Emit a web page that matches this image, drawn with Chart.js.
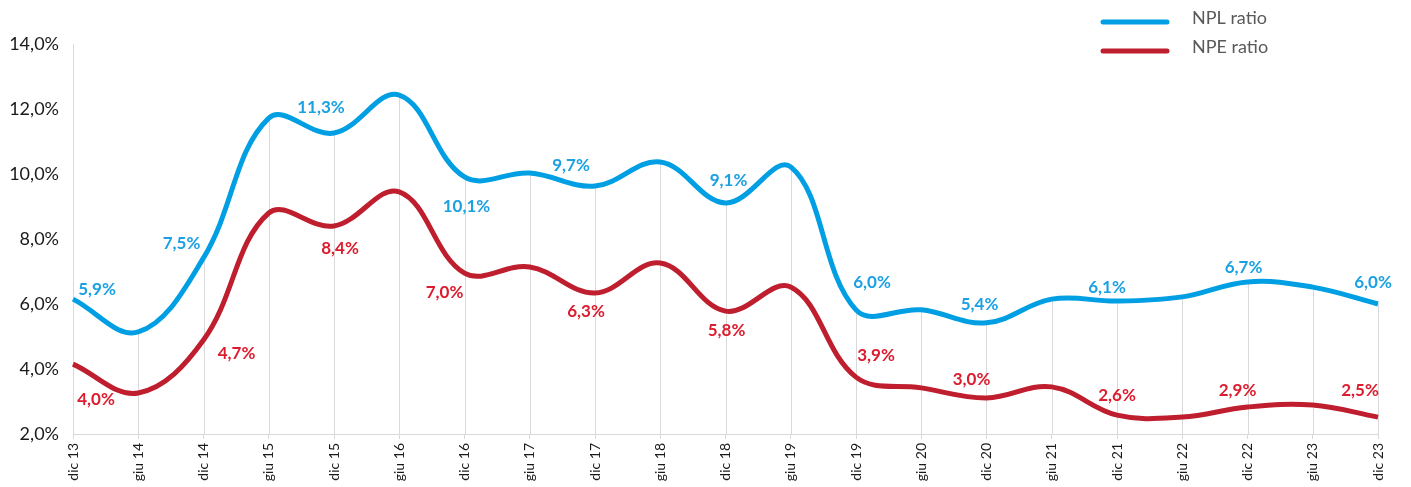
<!DOCTYPE html>
<html>
<head>
<meta charset="utf-8">
<script src="https://cdn.jsdelivr.net/npm/chart.js@4.4.1/dist/chart.umd.min.js"></script>
<style>
    html, body { margin: 0; padding: 0; background: #fff; }
    #wrap { width: 1411px; height: 487px; }
</style>
</head>
<body>
<div id="wrap"><canvas id="grafico"></canvas></div>
<script>
// Periodi (semestrali)
const periodi = ['dic 13', 'giu 14', 'dic 14', 'giu 15', 'dic 15', 'giu 16', 'dic 16', 'giu 17', 'dic 17', 'giu 18', 'dic 18',
    'giu 19', 'dic 19', 'giu 20', 'dic 20', 'giu 21', 'dic 21', 'giu 22', 'dic 22', 'giu 23', 'dic 23'];

// Valori delle curve (%)
const nplRatio = [6.15, 5.14, 7.42, 11.72, 11.26, 12.43, 9.91, 10.03, 9.63, 10.37, 9.11,
    10.22, 5.82, 5.82, 5.42, 6.15, 6.09, 6.22, 6.68, 6.52, 6.0];
const npeRatio = [4.15, 3.26, 4.89, 8.8, 8.4, 9.45, 6.95, 7.14, 6.34, 7.26, 5.78,
    6.52, 3.75, 3.42, 3.11, 3.45, 2.58, 2.52, 2.83, 2.89, 2.52];

// Etichette riportate sui punti di dicembre
const nplEtichette = [5.9, 7.5, 11.3, 10.1, 9.7, 9.1, 6.0, 5.4, 6.1, 6.7, 6.0];
const npeEtichette = [4.0, 4.7, 8.4, 7.0, 6.3, 5.8, 3.9, 3.0, 2.6, 2.9, 2.5];

// Tacche asse Y
const yMin = 2, yMax = 14, yPasso = 2;

const FONT = 'Lato, "Open Sans", sans-serif';
const BLU = '#009fe3';
const ROSSO = '#be1e2d';
const GRIGIO = '#d9d9d9';

const fmt = v => v.toFixed(1).replace('.', ',') + '%';

// Linee verticali dal punto NPL fino all'asse
const lineeVerticali = {
    id: 'lineeVerticali',
    beforeDatasetsDraw(chart) {
        const ctx = chart.ctx;
        const area = chart.chartArea;
        const punti = chart.getDatasetMeta(0).data;
        ctx.save();
        ctx.strokeStyle = GRIGIO;
        ctx.lineWidth = 1;
        punti.forEach(p => {
            ctx.beginPath();
            ctx.moveTo(Math.round(p.x) + 0.5, p.y);
            ctx.lineTo(Math.round(p.x) + 0.5, area.bottom);
            ctx.stroke();
        });
        ctx.restore();
    }
};

// Spostamenti delle etichette rispetto al punto
const spostNpl = [[24, -10], [-22, -14], [-13, -26], [2, 30], [-24, -21], [3, -22], [16, -27], [-7, -18], [-10, -14], [-4, -14], [-5, -21]];
const spostNpe = [[23, 35], [33, 13], [6, 23], [-20, 19], [-9, 19], [1, 19], [20, -22], [-15, -18], [0, -20], [-10, -17], [-18, -27]];

const etichette = {
    id: 'etichette',
    afterDatasetsDraw(chart) {
        const ctx = chart.ctx;
        ctx.save();
        ctx.font = 'bold 17px ' + FONT;
        ctx.textAlign = 'center';
        ctx.textBaseline = 'middle';
        const serie = [
            { valori: nplEtichette, spost: spostNpl, colore: '#1ba1e2', meta: chart.getDatasetMeta(0) },
            { valori: npeEtichette, spost: spostNpe, colore: '#dc1c2e', meta: chart.getDatasetMeta(1) }
        ];
        serie.forEach(s => {
            ctx.fillStyle = s.colore;
            s.valori.forEach((v, i) => {
                const p = s.meta.data[i * 2];
                ctx.fillText(fmt(v), p.x + s.spost[i][0], p.y + s.spost[i][1]);
            });
        });
        ctx.restore();
    }
};

// Legenda in alto a destra
const legenda = {
    id: 'legenda',
    afterDraw(chart) {
        const ctx = chart.ctx;
        ctx.save();
        chart.data.datasets.forEach((ds, i) => {
            const y = 22 + i * 29;
            ctx.strokeStyle = ds.borderColor;
            ctx.lineWidth = 5;
            ctx.lineCap = 'round';
            ctx.beginPath();
            ctx.moveTo(1103, y);
            ctx.lineTo(1167, y);
            ctx.stroke();
            ctx.fillStyle = '#595959';
            ctx.font = '18px ' + FONT;
            ctx.textBaseline = 'middle';
            ctx.fillText(ds.label, 1192, y - 4);
        });
        ctx.restore();
    }
};

new Chart(document.getElementById('grafico'), {
    type: 'line',
    data: {
        labels: periodi,
        datasets: [
            { label: 'NPL ratio', data: nplRatio, borderColor: BLU, borderWidth: 5, tension: 0.38, pointRadius: 0, fill: false },
            { label: 'NPE ratio', data: npeRatio, borderColor: ROSSO, borderWidth: 5, tension: 0.38, pointRadius: 0, fill: false }
        ]
    },
    options: {
        responsive: true,
        maintainAspectRatio: false,
        animation: false,
        layout: { padding: { top: 44, right: 33, left: 0, bottom: 0 } },
        plugins: {
            legend: { display: false },
            tooltip: { enabled: false }
        },
        scales: {
            x: {
                afterFit: s => { s.height = 53; },
                grid: { drawOnChartArea: false, drawTicks: true, tickLength: 5, color: GRIGIO },
                border: { display: true, color: GRIGIO },
                ticks: {
                    autoSkip: false,
                    minRotation: 90,
                    maxRotation: 90,
                    padding: 4,
                    color: '#1a1a1a',
                    font: { family: FONT, size: 14 }
                }
            },
            y: {
                min: yMin,
                max: yMax,
                afterFit: s => { s.width = 73; },
                grid: { display: false, drawTicks: false },
                border: { display: true, color: GRIGIO },
                ticks: {
                    stepSize: yPasso,
                    padding: 14,
                    color: '#1a1a1a',
                    font: { family: FONT, size: 18 },
                    callback: v => fmt(v)
                }
            }
        }
    },
    plugins: [lineeVerticali, etichette, legenda]
});
</script>
</body>
</html>
